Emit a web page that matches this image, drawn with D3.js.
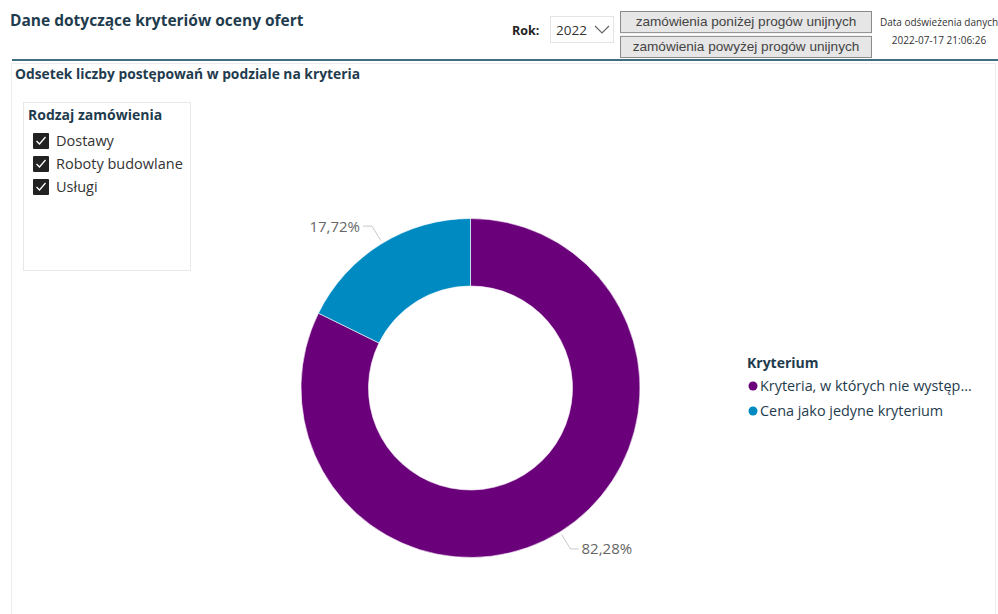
<!DOCTYPE html>
<html><head><meta charset="utf-8">
<script src="https://cdn.jsdelivr.net/npm/d3@7"></script>
<style>
body{margin:0;background:#fff;}
svg{display:block;font-family:"Segoe UI","Open Sans","Noto Sans",sans-serif;}
</style></head>
<body><svg id="c" width="998" height="614"></svg>
<script>
const categories = ["Kryteria, w których nie występ...", "Cena jako jedyne kryterium"];
const values = [82.28, 17.72];
const valueLabels = ["82,28%", "17,72%"];
const colors = ["#6B007B", "#008AC2"];
const slicerItems = ["Dostawy", "Roboty budowlane", "Usługi"];
const buttons = ["zamówienia poniżej progów unijnych", "zamówienia powyżej progów unijnych"];

const svg = d3.select("#c");

// header
svg.append("text").attr("x",10).attr("y",26).attr("font-size",15.5).attr("font-weight","bold")
  .attr("fill","#1f3c4e").text("Dane dotyczące kryteriów oceny ofert");
svg.append("text").attr("x",512).attr("y",35).attr("font-size",12.5).attr("font-weight","bold")
  .attr("fill","#222").text("Rok:");
svg.append("rect").attr("x",550.5).attr("y",16.5).attr("width",63).attr("height",26)
  .attr("fill","#fff").attr("stroke","#e4e4e4");
svg.append("text").attr("x",556).attr("y",35).attr("font-size",13.5).attr("fill","#333").text("2022");
svg.append("path").attr("d","M595,26 L602,33 L609,26").attr("fill","none").attr("stroke","#666").attr("stroke-width",1.2);

const by = d3.scaleBand().domain(buttons).range([11,57]).paddingInner(0.15);
buttons.forEach(b=>{
  svg.append("rect").attr("x",620.5).attr("y",by(b)+0.5).attr("width",251).attr("height",by.bandwidth())
    .attr("fill","#e6e6e6").attr("stroke","#8a8a8a");
  svg.append("text").attr("x",746).attr("y",by(b)+by.bandwidth()/2+4.5).attr("text-anchor","middle")
    .attr("font-family","'Liberation Sans',Arial,sans-serif").attr("font-size",13.6).attr("fill","#444").text(b);
});
svg.append("text").attr("x",939).attr("y",26).attr("text-anchor","middle").attr("font-size",10).attr("fill","#333").text("Data odświeżenia danych");
svg.append("text").attr("x",939).attr("y",44).attr("text-anchor","middle").attr("font-size",10).attr("fill","#333").text("2022-07-17 21:06:26");

svg.append("rect").attr("x",12).attr("y",59).attr("width",986).attr("height",2).attr("fill","#3f6d82");

// panel
svg.append("rect").attr("x",11.5).attr("y",63.5).attr("width",984).attr("height",560)
  .attr("fill","#fff").attr("stroke","#ececec");
svg.append("text").attr("x",15).attr("y",79).attr("font-size",13.8).attr("font-weight","bold")
  .attr("fill","#1f3c4e").text("Odsetek liczby postępowań w podziale na kryteria");

// slicer
svg.append("rect").attr("x",23.5).attr("y",102.5).attr("width",167).attr("height",168)
  .attr("fill","#fff").attr("stroke","#e8e8e8");
svg.append("text").attr("x",28).attr("y",120).attr("font-size",14).attr("font-weight","bold")
  .attr("fill","#1f3c4e").text("Rodzaj zamówienia");
const sy = d3.scalePoint().domain(slicerItems).range([141,187]);
slicerItems.forEach(s=>{
  const y = sy(s);
  svg.append("rect").attr("x",33).attr("y",y-8).attr("width",16).attr("height",16).attr("fill","#222").attr("rx",1);
  svg.append("path").attr("d",`M36.5,${y} L39.5,${y+3} L45.5,${y-4}`).attr("fill","none").attr("stroke","#fff").attr("stroke-width",1.3);
  svg.append("text").attr("x",56).attr("y",y+5).attr("font-size",14.5).attr("fill","#333").text(s);
});

// donut
const cx = 470.5, cy = 388, R = 169.5, r = 102;
const pie = d3.pie().sort(null).value(d=>d);
const arcs = pie(values);
const arc = d3.arc().innerRadius(r).outerRadius(R);
const g = svg.append("g").attr("transform",`translate(${cx},${cy})`);
g.selectAll("path.s").data(arcs).enter().append("path").attr("class","s")
  .attr("d",arc).attr("fill",(d,i)=>colors[i]).attr("stroke","#fff").attr("stroke-width",0.6);

// labels with leader lines
arcs.forEach((a,i)=>{
  const ang = i===0 ? Math.PI*0.823 : Math.PI*1.826;
  const p0 = [Math.sin(ang)*(R+3), -Math.cos(ang)*(R+3)];
  const p1 = [Math.sin(ang)*(R+20), -Math.cos(ang)*(R+20)];
  const right = Math.sin(ang) > 0;
  const p2 = [p1[0] + (right?8:-9), p1[1]];
  g.append("polyline").attr("points",[p0,p1,p2].map(p=>p.join(",")).join(" "))
    .attr("fill","none").attr("stroke","#c8c8c8").attr("stroke-width",1);
  g.append("text").attr("x",p2[0]+(right?3:-3)).attr("y",p2[1]+5.5)
    .attr("text-anchor",right?"start":"end").attr("font-size",15).attr("fill","#666").text(valueLabels[i]);
});

// legend
svg.append("text").attr("x",747).attr("y",368).attr("font-size",14).attr("font-weight","bold")
  .attr("fill","#1f3c4e").text("Kryterium");
const ly = d3.scalePoint().domain(categories).range([386,411]);
categories.forEach((c,i)=>{
  svg.append("circle").attr("cx",753).attr("cy",ly(c)).attr("r",4.5).attr("fill",colors[i]);
  svg.append("text").attr("x",760).attr("y",ly(c)+5).attr("font-size",14.4).attr("fill","#1f3c4e").text(c);
});
</script></body></html>
